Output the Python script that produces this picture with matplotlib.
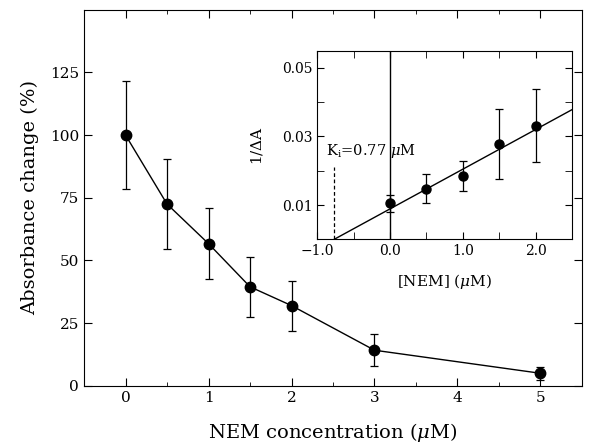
import numpy as np
import matplotlib
matplotlib.use("Agg")
import matplotlib.pyplot as plt

plt.rcParams["font.family"] = ["DejaVu Serif"]
plt.rcParams["mathtext.fontset"] = "dejavuserif"

# main panel: absorbance change vs NEM concentration
nem = [0, 0.5, 1, 1.5, 2, 3, 5]
absorb = [100, 72.5, 56.7, 39.5, 32, 14.2, 5.0]
absorb_err = [21.5, 17.8, 14.2, 12.0, 10.0, 6.3, 2.6]

# inset: double reciprocal (1/dA vs [NEM])
inv_x = [0.0, 0.5, 1.0, 1.5, 2.0]
inv_y = [0.0105, 0.0148, 0.0185, 0.0278, 0.0331]
inv_err = [0.0025, 0.0043, 0.0044, 0.0102, 0.0106]
ki = 0.77
fit_slope = 0.01156

fig = plt.figure(figsize=(5.92, 4.45), dpi=100)
ax = fig.add_axes([0.142, 0.133, 0.841, 0.845])
ax.errorbar(nem, absorb, yerr=absorb_err, color="black", lw=1.0, marker="o",
            ms=7.5, capsize=3, elinewidth=0.9, capthick=0.9)
ax.set_xlim(-0.5, 5.5)
ax.set_ylim(0, 150)
ax.set_xticks([0, 1, 2, 3, 4, 5])
ax.set_xticks(np.arange(-0.5, 5.51, 0.5), minor=True)
ax.set_yticks([0, 25, 50, 75, 100, 125])
ax.tick_params(which="both", direction="in", top=True, right=True, labelsize=11)
ax.tick_params(which="major", length=6)
ax.tick_params(which="minor", length=3)
ax.set_xlabel(r"NEM concentration ($\mu$M)", fontsize=14, labelpad=12)
ax.set_ylabel("Absorbance change (%)", fontsize=14, labelpad=8)

ins = fig.add_axes([0.536, 0.462, 0.430, 0.424])
ins.errorbar(inv_x, inv_y, yerr=inv_err, color="black", lw=0, marker="o",
             ms=6.5, capsize=3, elinewidth=0.9, capthick=0.9)
xf = np.array([-ki, 2.5])
ins.plot(xf, fit_slope * (xf + ki), color="black", lw=1.0)
ins.axvline(0, color="black", lw=1.0)
ins.plot([-ki, -ki], [0, 0.0212], color="black", lw=0.9, ls=(0, (3, 2)))
ins.text(-0.88, 0.0245, r"K$_\mathrm{i}$=0.77 $\mu$M", fontsize=10.5)
ins.set_xlim(-1.0, 2.5)
ins.set_ylim(0, 0.055)
ins.set_xticks([-1.0, 0.0, 1.0, 2.0])
ins.set_xticklabels(["\u22121.0", "0.0", "1.0", "2.0"])
ins.set_xticks(np.arange(-1.0, 2.51, 0.5), minor=True)
ins.set_yticks([0.01, 0.03, 0.05])
ins.set_yticks([0.02, 0.04], minor=True)
ins.tick_params(which="both", direction="in", top=True, right=True, labelsize=10)
ins.tick_params(which="major", length=5)
ins.tick_params(which="minor", length=5)
ins.set_xlabel(r"[NEM] ($\mu$M)", fontsize=11, labelpad=10)
ins.set_ylabel(r"1/$\Delta$A", fontsize=11, labelpad=12)

fig.savefig("out.png", dpi=100)
